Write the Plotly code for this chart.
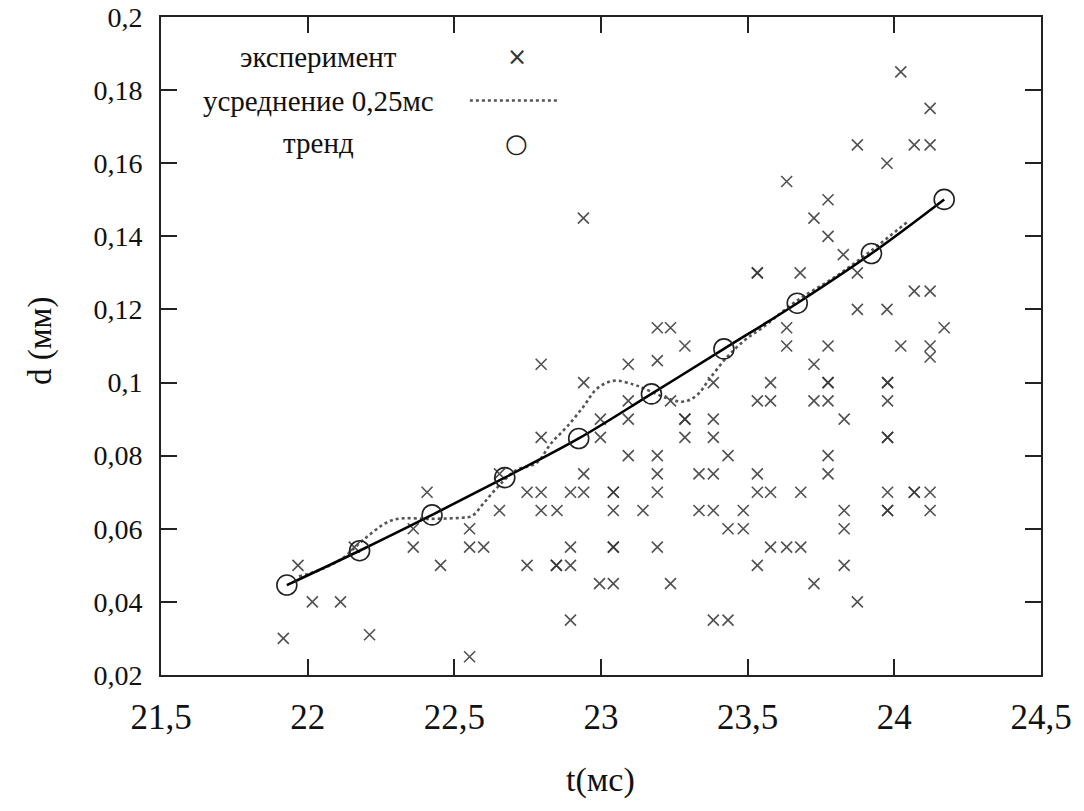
import plotly.graph_objects as go

# ---- data: experiment points (t in ms, d in mm) ----
exp_t = [21.917, 21.967, 22.016, 22.112, 22.211, 22.159, 22.36, 22.36, 22.407, 22.453,
         22.552, 22.552, 22.60, 22.552, 22.654, 22.654, 22.748, 22.796, 22.796, 22.796,
         22.748, 22.796, 22.85, 22.848, 22.848, 22.896, 22.896, 22.896, 22.896, 22.941,
         22.941, 22.941, 22.94, 22.998, 22.998, 22.995, 23.042, 23.042, 23.042, 23.042,
         23.042, 23.042, 23.093, 23.093, 23.093, 23.093, 23.143, 23.192, 23.192, 23.192,
         23.192, 23.192, 23.192, 23.237, 23.237, 23.237, 23.286, 23.286, 23.286, 23.286,
         23.334, 23.383, 23.334, 23.383, 23.383, 23.383, 23.383, 23.433, 23.383, 23.433,
         23.433, 23.485, 23.485, 23.533, 23.533, 23.533, 23.578, 23.578, 23.533, 23.533,
         23.578, 23.533, 23.578, 23.633, 23.681, 23.633, 23.633, 23.633, 23.679, 23.681,
         23.726, 23.726, 23.726, 23.726, 23.774, 23.774, 23.774, 23.774, 23.774, 23.774,
         23.774, 23.774, 23.826, 23.829, 23.829, 23.829, 23.829, 23.874, 23.874, 23.874,
         23.874, 23.975, 23.975, 23.977, 23.977, 23.977, 23.977, 23.977, 23.977, 23.977,
         23.977, 24.022, 24.022, 24.068, 24.068, 24.068, 24.068, 24.122, 24.122, 24.122,
         24.122, 24.122, 24.122, 24.122, 24.17]
exp_d = [0.030, 0.050, 0.040, 0.040, 0.031, 0.055, 0.060, 0.055, 0.070, 0.050,
         0.060, 0.055, 0.055, 0.025, 0.075, 0.065, 0.070, 0.070, 0.085, 0.105,
         0.050, 0.065, 0.065, 0.050, 0.050, 0.050, 0.070, 0.055, 0.035, 0.100,
         0.075, 0.070, 0.145, 0.090, 0.085, 0.045, 0.070, 0.070, 0.065, 0.055,
         0.055, 0.045, 0.105, 0.095, 0.090, 0.080, 0.065, 0.115, 0.106, 0.080,
         0.075, 0.070, 0.055, 0.115, 0.095, 0.045, 0.110, 0.090, 0.090, 0.085,
         0.075, 0.075, 0.065, 0.065, 0.100, 0.090, 0.085, 0.080, 0.035, 0.035,
         0.060, 0.060, 0.065, 0.130, 0.130, 0.095, 0.095, 0.100, 0.075, 0.070,
         0.070, 0.050, 0.055, 0.055, 0.055, 0.155, 0.115, 0.110, 0.130, 0.070,
         0.145, 0.105, 0.095, 0.045, 0.150, 0.140, 0.110, 0.100, 0.100, 0.095,
         0.080, 0.075, 0.135, 0.090, 0.065, 0.060, 0.050, 0.165, 0.130, 0.120,
         0.040, 0.160, 0.120, 0.100, 0.100, 0.095, 0.085, 0.085, 0.070, 0.065,
         0.065, 0.185, 0.110, 0.165, 0.125, 0.070, 0.070, 0.175, 0.165, 0.125,
         0.110, 0.107, 0.070, 0.065, 0.115]

# ---- data: moving average 0.25 ms ----
avg_t = [21.97, 22.04, 22.12, 22.19, 22.29, 22.42, 22.52, 22.56, 22.60, 22.65,
         22.71, 22.78, 22.83, 22.885, 22.94, 22.987, 23.044, 23.11, 23.146, 23.226,
         23.283, 23.328, 23.37, 23.43, 23.49, 23.55, 23.67, 23.80, 23.92, 24.045]
avg_d = [0.047, 0.0487, 0.052, 0.057, 0.0624, 0.0627, 0.063, 0.0635, 0.067, 0.0716,
         0.076, 0.078, 0.0834, 0.088, 0.0934, 0.0984, 0.1005, 0.0995, 0.0984, 0.0957,
         0.0948, 0.0966, 0.1010, 0.107, 0.1116, 0.1150, 0.1225, 0.1290, 0.1360, 0.1440]

# ---- data: trend ----
trend_t = [21.929, 22.177, 22.424, 22.672, 22.924, 23.172, 23.419, 23.669, 23.922, 24.17]
trend_d = [0.0446, 0.0540, 0.0638, 0.0740, 0.0847, 0.0969, 0.1092, 0.1217, 0.1353, 0.1501]

# ---- ticks ----
x_ticks = [21.5, 22.0, 22.5, 23.0, 23.5, 24.0, 24.5]
x_labels = ["21,5", "22", "22,5", "23", "23,5", "24", "24,5"]
y_ticks = [0.02, 0.04, 0.06, 0.08, 0.10, 0.12, 0.14, 0.16, 0.18, 0.20]
y_labels = ["0,02", "0,04", "0,06", "0,08", "0,1", "0,12", "0,14", "0,16", "0,18", "0,2"]

legend_labels = ["эксперимент", "усреднение 0,25мс", "тренд"]

SERIF = "Liberation Serif"

fig = go.Figure()
fig.add_trace(go.Scatter(
    x=exp_t, y=exp_d, mode="markers", name=legend_labels[0],
    marker=dict(symbol="x-thin", size=11, color="#333",
                line=dict(width=1.6, color="#333"), opacity=0.85),
))
fig.add_trace(go.Scatter(
    x=avg_t, y=avg_d, mode="lines", name=legend_labels[1], line_shape="spline",
    line=dict(color="#555", width=2.6, dash="dot"),
))
fig.add_trace(go.Scatter(
    x=trend_t, y=trend_d, mode="lines+markers", name=legend_labels[2], line_shape="spline",
    line=dict(color="black", width=2.6),
    marker=dict(symbol="circle-open", size=20, color="#222", line=dict(width=1.6, color="#222")),
))

axis_common = dict(
    showline=True, linecolor="#222", linewidth=2, mirror="ticks",
    ticks="inside", ticklen=16, tickwidth=2, tickcolor="#222",
    showgrid=False, zeroline=False, automargin=False,
)

fig.update_xaxes(range=[21.5, 24.5], tickvals=x_ticks, ticktext=x_labels,
                 tickfont=dict(family=SERIF, size=35, color="#111"),
                 ticklabelstandoff=10, **axis_common)
fig.update_yaxes(range=[0.02, 0.2], tickvals=y_ticks, ticktext=y_labels,
                 tickfont=dict(family=SERIF, size=28, color="#111"),
                 ticklabelstandoff=11, **axis_common)

# axis titles
fig.add_annotation(text="t(мс)", xref="paper", yref="paper", x=0.499, y=-0.16,
                   showarrow=False, font=dict(family=SERIF, size=34, color="#111"),
                   xanchor="center", yanchor="middle")
fig.add_annotation(text="d (мм)", xref="paper", yref="paper", x=-0.1375, y=0.509,
                   showarrow=False, textangle=-90,
                   font=dict(family=SERIF, size=33, color="#111"),
                   xanchor="center", yanchor="middle")

# custom legend (text left, sample right)
leg_y = [0.939, 0.873, 0.808]
leg_x_text = 0.179
leg_x_sym = 0.404
for lbl, yy in zip(legend_labels, leg_y):
    fig.add_annotation(text=lbl, xref="paper", yref="paper", x=leg_x_text, y=yy,
                       showarrow=False, font=dict(family=SERIF, size=29, color="#111"),
                       xanchor="center", yanchor="middle")
fig.add_annotation(text="×", xref="paper", yref="paper", x=leg_x_sym, y=leg_y[0],
                   showarrow=False, font=dict(family="DejaVu Sans", size=24, color="#333"),
                   xanchor="center", yanchor="middle")
fig.add_shape(type="line", xref="paper", yref="paper",
              x0=0.351, x1=0.451, y0=leg_y[1], y1=leg_y[1],
              line=dict(color="#555", width=2.6, dash="dot"))
fig.add_annotation(text="○", xref="paper", yref="paper", x=leg_x_sym, y=leg_y[2],
                   showarrow=False, font=dict(family="DejaVu Sans", size=26, color="#222"),
                   xanchor="center", yanchor="middle")

fig.update_layout(
    width=1084, height=811,
    margin=dict(l=161, r=43, t=17, b=136),
    plot_bgcolor="white", paper_bgcolor="white",
    showlegend=False,
)

fig.write_html("out.html")
